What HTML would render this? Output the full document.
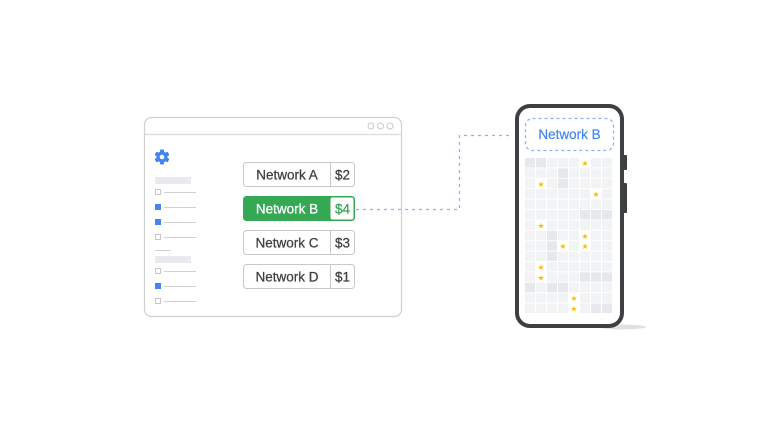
<!DOCTYPE html>
<html><head><meta charset="utf-8"><style>
html,body{margin:0;padding:0;background:#fff;}
svg{display:block;font-family:"Liberation Sans",Arial,sans-serif;}
</style></head><body>
<svg width="768" height="433" viewBox="0 0 768 433" xmlns="http://www.w3.org/2000/svg">
<path d="M356 209.5 H459.5 V135.5 H510" fill="none" stroke="#8ab4f8" stroke-width="1.3" stroke-dasharray="3 4"/>
<rect x="144.5" y="117.5" width="257" height="199" rx="7" fill="none" stroke="#d0d0d0" stroke-width="1.2"/>
<line x1="145" y1="134.5" x2="401" y2="134.5" stroke="#dcdcdc" stroke-width="1.2"/>
<circle cx="371" cy="126" r="3" fill="none" stroke="#c8c8c8"/>
<circle cx="380.5" cy="126" r="3" fill="none" stroke="#c8c8c8"/>
<circle cx="390" cy="126" r="3" fill="none" stroke="#c8c8c8"/>
<g transform="translate(162,157)" fill="#4285f4">
<circle r="5.5"/>
<rect x="-2" y="-7.5" width="4" height="15" rx="1"/>
<rect x="-2" y="-7.5" width="4" height="15" rx="1" transform="rotate(60)"/>
<rect x="-2" y="-7.5" width="4" height="15" rx="1" transform="rotate(120)"/>
<circle r="2.3" fill="#fff"/>
</g>
<g fill="#e8eaed">
<rect x="155" y="177" width="36" height="7"/>
<rect x="155" y="256" width="36" height="7"/>
</g>
<g stroke="#d0d0d0" stroke-width="1">
<line x1="164" y1="192.5" x2="196" y2="192.5"/>
<line x1="164" y1="207.5" x2="196" y2="207.5"/>
<line x1="164" y1="222.5" x2="196" y2="222.5"/>
<line x1="164" y1="237.5" x2="196" y2="237.5"/>
<line x1="155" y1="250.5" x2="171" y2="250.5"/>
<line x1="164" y1="271.5" x2="196" y2="271.5"/>
<line x1="164" y1="286.5" x2="196" y2="286.5"/>
<line x1="164" y1="301.5" x2="196" y2="301.5"/>
</g>
<g fill="none" stroke="#c8c8c8">
<rect x="155.5" y="189.5" width="5" height="5"/>
<rect x="155.5" y="234.5" width="5" height="5"/>
<rect x="155.5" y="268.5" width="5" height="5"/>
<rect x="155.5" y="298.5" width="5" height="5"/>
</g>
<g fill="#4285f4">
<rect x="155" y="204" width="6" height="6"/>
<rect x="155" y="219" width="6" height="6"/>
<rect x="155" y="283" width="6" height="6"/>
</g>
<g font-size="13.5" fill="#3c4043" text-anchor="middle" stroke-width="0.25">
<rect x="243.5" y="162.5" width="111" height="24" rx="3" fill="#fff" stroke="#c8c8c8" stroke-width="1"/>
<line x1="330.5" y1="162.5" x2="330.5" y2="186.5" stroke="#c8c8c8" stroke-width="1"/>
<text x="287" y="179.5" stroke="#3c4043">Network A</text><text x="342.5" y="179.5" stroke="#3c4043">$2</text>
<rect x="243.5" y="196.5" width="111" height="24" rx="3" fill="#34a853" stroke="#34a853" stroke-width="1"/>
<rect x="330.5" y="197.5" width="23" height="22" rx="2" fill="#fff"/>
<text x="287" y="213.5" fill="#fff" stroke="#fff">Network B</text><text x="342.5" y="213.5" fill="#34a853" stroke="#34a853">$4</text>
<rect x="243.5" y="230.5" width="111" height="24" rx="3" fill="#fff" stroke="#c8c8c8" stroke-width="1"/>
<line x1="330.5" y1="230.5" x2="330.5" y2="254.5" stroke="#c8c8c8" stroke-width="1"/>
<text x="287" y="247.5" stroke="#3c4043">Network C</text><text x="342.5" y="247.5" stroke="#3c4043">$3</text>
<rect x="243.5" y="264.5" width="111" height="24" rx="3" fill="#fff" stroke="#c8c8c8" stroke-width="1"/>
<line x1="330.5" y1="264.5" x2="330.5" y2="288.5" stroke="#c8c8c8" stroke-width="1"/>
<text x="287" y="281.5" stroke="#3c4043">Network D</text><text x="342.5" y="281.5" stroke="#3c4043">$1</text>
</g>
<ellipse cx="622" cy="327" rx="24" ry="2.5" fill="#e0e0e0"/>
<rect x="623" y="155" width="4" height="15" rx="1" fill="#3c4043"/>
<rect x="623" y="183" width="4" height="30" rx="1" fill="#3c4043"/>
<rect x="517" y="106" width="105" height="220" rx="13" fill="#fff" stroke="#3c4043" stroke-width="4"/>
<rect x="525.5" y="118.5" width="88" height="32" rx="7" fill="none" stroke="#8ab4f8" stroke-width="1.3" stroke-dasharray="3 3"/>
<text x="569.5" y="139" font-size="13.5" fill="#4285f4" stroke="#4285f4" stroke-width="0.2" text-anchor="middle">Network B</text>
<defs>
<pattern id="g" x="525" y="158" width="11" height="10.4" patternUnits="userSpaceOnUse">
<rect width="10" height="9.4" fill="#f1f3f4"/>
</pattern>
</defs>
<rect x="525" y="158" width="88" height="156" fill="url(#g)"/>
<g fill="#e6e8eb">
<rect x="525" y="158" width="10" height="9.4"/><rect x="536" y="158" width="10" height="9.4"/>
<rect x="558" y="168.4" width="10" height="9.4"/><rect x="558" y="178.8" width="10" height="9.4"/>
<rect x="580" y="210" width="10" height="9.4"/><rect x="591" y="210" width="10" height="9.4"/><rect x="602" y="210" width="10" height="9.4"/>
<rect x="547" y="230.8" width="10" height="9.4"/><rect x="547" y="241.2" width="10" height="9.4"/><rect x="547" y="251.6" width="10" height="9.4"/>
<rect x="580" y="272.4" width="10" height="9.4"/><rect x="591" y="272.4" width="10" height="9.4"/><rect x="602" y="272.4" width="10" height="9.4"/>
<rect x="525" y="282.8" width="10" height="9.4"/><rect x="547" y="282.8" width="10" height="9.4"/><rect x="558" y="282.8" width="10" height="9.4"/>
<rect x="591" y="303.6" width="10" height="9.4"/><rect x="602" y="303.6" width="10" height="9.4"/>
</g>
<g fill="#fff">
<rect x="580" y="158" width="10" height="9.4"/>
<rect x="536" y="178.8" width="10" height="9.4"/>
<rect x="591" y="189.2" width="10" height="9.4"/>
<rect x="536" y="220.4" width="10" height="9.4"/>
<rect x="580" y="230.8" width="10" height="9.4"/>
<rect x="558" y="241.2" width="10" height="9.4"/><rect x="580" y="241.2" width="10" height="9.4"/>
<rect x="536" y="262" width="10" height="9.4"/>
<rect x="536" y="272.4" width="10" height="9.4"/>
<rect x="569" y="293.2" width="10" height="9.4"/>
<rect x="569" y="303.6" width="10" height="9.4"/>
</g>
<g font-size="8" fill="#fbbc04" text-anchor="middle" font-family="DejaVu Sans,sans-serif">
<text x="585" y="166">★</text>
<text x="541" y="186.8">★</text>
<text x="596" y="197.2">★</text>
<text x="541" y="228.4">★</text>
<text x="585" y="238.8">★</text>
<text x="563" y="249.2">★</text><text x="585" y="249.2">★</text>
<text x="541" y="270">★</text>
<text x="541" y="280.4">★</text>
<text x="574" y="301.2">★</text>
<text x="574" y="311.6">★</text>
</g>
</svg>
</body></html>
